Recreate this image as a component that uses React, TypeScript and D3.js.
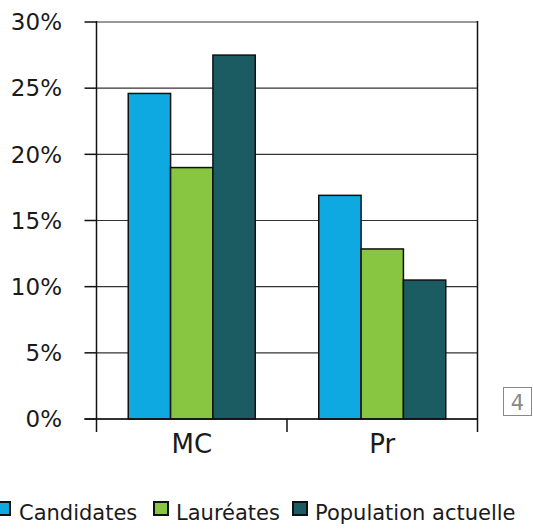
import React from "react";
import * as d3 from "d3";

const categories = ["MC", "Pr"];
const seriesNames = ["Candidates", "Lauréates", "Population actuelle"];
const candidates = [24.6, 16.9];
const laureates = [19.0, 12.85];
const population = [27.5, 10.5];
const yTicks = [0, 5, 10, 15, 20, 25, 30];
const colors = ["#0FA9E1", "#88C540", "#1B5B62"];

const W = 533;
const H = 529;
const left = 96.5;
const right = 477.5;
const top = 22;
const bottom = 419;
const font = "'DejaVu Sans', sans-serif";

export default function App() {
  const series = [candidates, laureates, population];
  const x = d3.scaleBand<string>().domain(categories).range([left, right]).paddingInner(0).paddingOuter(0);
  const x1 = d3
    .scaleBand<number>()
    .domain(d3.range(seriesNames.length))
    .range([0, x.bandwidth()])
    .paddingOuter(0.75)
    .paddingInner(0);
  const y = d3.scaleLinear().domain([0, 30]).range([bottom, top]);

  // legend swatch left edges and label starts
  const swatchX = [-5, 153, 292];
  const labelX = [19, 176, 315];

  return (
    <div style={{ position: "absolute", left: 0, top: 0 }}>
      <svg width={W} height={H} style={{ display: "block", background: "#fff" }}>
        {/* gridlines */}
        {yTicks.map((t) => (
          <line key={"g" + t} x1={left} x2={right} y1={y(t)} y2={y(t)} stroke="#333" strokeWidth={1.2} />
        ))}
        {/* bars */}
        {categories.map((c, ci) =>
          series.map((s, si) => (
            <rect
              key={c + si}
              x={(x(c) as number) + (x1(si) as number)}
              y={y(s[ci])}
              width={x1.bandwidth()}
              height={y(0) - y(s[ci])}
              fill={colors[si]}
              stroke="#111"
              strokeWidth={1.5}
            />
          ))
        )}
        {/* axes frame */}
        <line x1={left} x2={left} y1={top - 1} y2={bottom + 13} stroke="#111" strokeWidth={1.5} />
        <line x1={right} x2={right} y1={top - 1} y2={bottom + 13} stroke="#111" strokeWidth={1.5} />
        <line x1={left - 12} x2={right} y1={bottom} y2={bottom} stroke="#111" strokeWidth={1.5} />
        <line x1={x("Pr")} x2={x("Pr")} y1={bottom} y2={bottom + 13} stroke="#111" strokeWidth={1.5} />
        {yTicks.map((t) => (
          <g key={"t" + t}>
            <line x1={left - 12} x2={left} y1={y(t)} y2={y(t)} stroke="#111" strokeWidth={1.5} />
            <text
              x={62}
              y={y(t)}
              dy="0.36em"
              textAnchor="end"
              fontFamily={font}
              fontSize={23}
              fill="#1a1a1a"
            >
              {t}%
            </text>
          </g>
        ))}
        {categories.map((c) => (
          <text
            key={"c" + c}
            x={(x(c) as number) + x.bandwidth() / 2}
            y={453}
            textAnchor="middle"
            fontFamily={font}
            fontSize={26}
            fill="#1a1a1a"
          >
            {c}
          </text>
        ))}
        {/* panel number */}
        <rect x={503.5} y={387.5} width={28} height={28} fill="#fff" stroke="#888" strokeWidth={1} />
        <text x={517.5} y={409.5} textAnchor="middle" fontFamily={font} fontSize={21} fill="#888">
          4
        </text>
        {/* legend */}
        {seriesNames.map((n, i) => (
          <g key={"l" + n}>
            <rect x={swatchX[i] + 1} y={502} width={14} height={13} fill={colors[i]} stroke="#111" strokeWidth={2} />
            <text x={labelX[i]} y={520} fontFamily={font} fontSize={21} fill="#1a1a1a">
              {n}
            </text>
          </g>
        ))}
      </svg>
    </div>
  );
}
